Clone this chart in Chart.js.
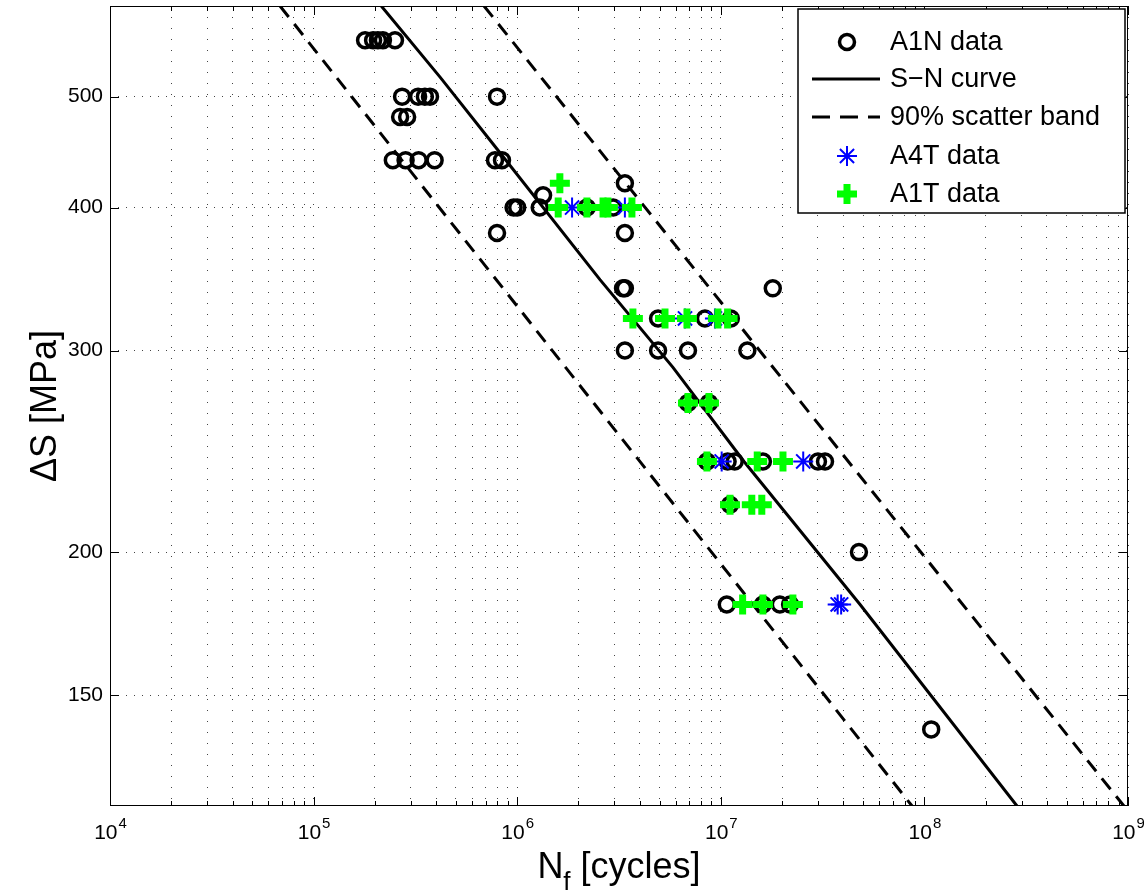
<!DOCTYPE html>
<html>
<head>
<meta charset="utf-8">
<script src="https://cdn.jsdelivr.net/npm/chart.js@4.4.0/dist/chart.umd.min.js"></script>
<style>
  html, body { margin: 0; padding: 0; background: #fff; }
  #wrap { width: 1144px; height: 890px; }
</style>
</head>
<body>
<div id="wrap"><canvas id="sn-chart" width="1144" height="890"></canvas></div>
<script>
/* S-N plot: A1N / A4T / A1T fatigue data with fitted curve and 90% band */

var FONT = '"Liberation Sans", Arial, Helvetica, sans-serif';

// axis ticks
var X_DECADES = [1e4, 1e5, 1e6, 1e7, 1e8, 1e9];
var X_EXPONENTS = ['4', '5', '6', '7', '8', '9'];
var Y_TICKS = [150, 200, 300, 400, 500];

// A1N data (black circles)
var a1nN = [1.79e5, 1.96e5, 2.07e5, 2.19e5, 2.51e5,
  2.72e5, 3.26e5, 3.52e5, 3.73e5, 7.96e5,
  2.66e5, 2.88e5,
  2.45e5, 2.83e5, 3.28e5, 3.93e5, 7.78e5, 8.42e5,
  3.38e6,
  1.34e6,
  9.6e5, 1.0e6, 1.29e6, 2.2e6, 2.96e6,
  7.96e5, 3.38e6,
  3.31e6, 3.38e6, 1.8e7,
  4.92e6, 8.36e6, 1.12e7,
  3.38e6, 4.92e6, 6.9e6, 1.35e7,
  6.9e6, 8.75e6,
  8.55e6, 1.08e7, 1.17e7, 1.61e7, 3.0e7, 3.25e7,
  1.11e7,
  4.77e7,
  1.07e7, 1.61e7, 1.95e7, 2.19e7,
  1.08e8];
var a1nS = [560, 560, 560, 560, 560,
  500, 500, 500, 500, 500,
  480, 480,
  440, 440, 440, 440, 440, 440,
  420,
  410,
  400, 400, 400, 400, 400,
  380, 380,
  340, 340, 340,
  320, 320, 320,
  300, 300, 300, 300,
  270, 270,
  240, 240, 240, 240, 240, 240,
  220,
  200,
  180, 180, 180, 180,
  140];

// A4T data (blue asterisks)
var a4tN = [1.86e6, 3.38e6, 6.67e6, 9.36e6, 1.01e7, 2.54e7, 3.75e7, 3.9e7];
var a4tS = [400, 400, 320, 320, 240, 240, 180, 180];

// A1T data (green plus)
var a1tN = [1.62e6,
  1.59e6, 2.2e6, 2.64e6, 2.79e6, 3.66e6,
  3.70e6, 5.32e6, 6.82e6, 9.68e6, 1.08e7,
  6.9e6, 8.75e6,
  8.55e6, 1.51e7, 2.02e7,
  1.11e7, 1.42e7, 1.59e7,
  1.28e7, 1.61e7, 2.26e7];
var a1tS = [420,
  400, 400, 400, 400, 400,
  320, 320, 320, 320, 320,
  270, 270,
  240, 240, 240,
  220, 220, 220,
  180, 180, 180];

// S-N curve and scatter band
var snN = [2.15e5, 4.18e5, 7.96e5, 2.55e6, 5.82e6, 1.3e7, 4.83e7, 2.85e8];
var snS = [600, 520, 450, 346, 290, 240, 180, 120];
var bandLoN = [6.84e4, 8.7e7];
var bandLoS = [600, 120];
var bandHiN = [6.87e5, 9.55e8];
var bandHiS = [600, 120];

function pairs(xs, ys) {
  return xs.map(function(x, i) { return { x: x, y: ys[i] }; });
}

function allXTicks() {
  var out = [];
  for (var d = 0; d < X_DECADES.length; d++) {
    var base = X_DECADES[d];
    var top = d === X_DECADES.length - 1 ? 1 : 9;
    for (var m = 1; m <= top; m++) out.push(base * m);
  }
  return out;
}
var X_TICKS = allXTicks();

var LEGEND_ITEMS = [
  { label: 'A1N data', kind: 'point', style: 'circle', color: '#000', radius: 7.5, width: 3.5 },
  { label: 'S\u2212N curve', kind: 'line', color: '#000', dash: [] },
  { label: '90% scatter band', kind: 'line', color: '#000', dash: [18, 10] },
  { label: 'A4T data', kind: 'point', style: 'star', color: '#0000ff', radius: 10, width: 2 },
  { label: 'A1T data', kind: 'point', style: 'cross', color: '#00ff00', radius: 10, width: 7 }
];

var framePlugin = {
  id: 'frame',
  afterDraw: function(chart) {
    var ctx = chart.ctx;
    var a = chart.chartArea;
    var xs = chart.scales.x;
    var ys = chart.scales.y;
    ctx.save();

    // inner tick marks on all four sides
    ctx.strokeStyle = '#000';
    ctx.lineWidth = 1;
    ctx.beginPath();
    X_TICKS.forEach(function(v) {
      var px = Math.round(xs.getPixelForValue(v)) + 0.5;
      var len = X_DECADES.indexOf(v) >= 0 ? 9 : 5;
      ctx.moveTo(px, a.bottom); ctx.lineTo(px, a.bottom - len);
      ctx.moveTo(px, a.top); ctx.lineTo(px, a.top + len);
    });
    Y_TICKS.forEach(function(v) {
      var py = Math.round(ys.getPixelForValue(v)) + 0.5;
      ctx.moveTo(a.left, py); ctx.lineTo(a.left + 9, py);
      ctx.moveTo(a.right, py); ctx.lineTo(a.right - 9, py);
    });
    ctx.stroke();
    ctx.strokeRect(a.left + 0.5, a.top + 0.5, a.right - a.left - 1, a.bottom - a.top - 1);

    // x tick labels: 10 with superscript exponent
    ctx.fillStyle = '#000';
    X_DECADES.forEach(function(v, i) {
      var px = xs.getPixelForValue(v);
      ctx.font = '21px ' + FONT;
      var w1 = ctx.measureText('10').width;
      ctx.font = '15px ' + FONT;
      var w2 = ctx.measureText(X_EXPONENTS[i]).width;
      var x0 = px - (w1 + w2) / 2;
      ctx.textAlign = 'left';
      ctx.textBaseline = 'alphabetic';
      ctx.font = '21px ' + FONT;
      ctx.fillText('10', x0, a.bottom + 33);
      ctx.font = '15px ' + FONT;
      ctx.fillText(X_EXPONENTS[i], x0 + w1 + 1, a.bottom + 22);
    });

    // x axis title with subscript
    ctx.font = '36px ' + FONT;
    var tN = 'N', tRest = ' [cycles]';
    var wN = ctx.measureText(tN).width;
    var wR = ctx.measureText(tRest).width;
    ctx.font = '26px ' + FONT;
    var wf = ctx.measureText('f').width;
    var cx = (a.left + a.right) / 2;
    var start = cx - (wN + wf + wR) / 2;
    ctx.font = '36px ' + FONT;
    ctx.fillText(tN, start, 878);
    ctx.font = '26px ' + FONT;
    ctx.fillText('f', start + wN, 890);
    ctx.font = '36px ' + FONT;
    ctx.fillText(tRest, start + wN + wf, 878);

    // legend box
    var lx = 798, ly = 9, lw = 327, lh = 204;
    ctx.fillStyle = '#fff';
    ctx.fillRect(lx, ly, lw, lh);
    ctx.lineWidth = 1.5;
    ctx.strokeStyle = '#000';
    ctx.strokeRect(lx, ly, lw, lh);
    var rows = [42, 79, 117, 156, 194];
    LEGEND_ITEMS.forEach(function(item, i) {
      var y = rows[i];
      if (item.kind === 'line') {
        ctx.save();
        ctx.strokeStyle = item.color;
        ctx.lineWidth = 3;
        ctx.setLineDash(item.dash);
        ctx.beginPath();
        ctx.moveTo(812, y); ctx.lineTo(880, y);
        ctx.stroke();
        ctx.restore();
      } else {
        ctx.save();
        ctx.strokeStyle = item.color;
        ctx.fillStyle = 'rgba(0,0,0,0)';
        ctx.lineWidth = item.width;
        Chart.helpers.drawPoint(ctx, { pointStyle: item.style, radius: item.radius, borderWidth: item.width, rotation: 0 }, 847, y);
        ctx.restore();
      }
      ctx.fillStyle = '#000';
      ctx.font = '27px ' + FONT;
      ctx.textAlign = 'left';
      ctx.textBaseline = 'middle';
      ctx.fillText(item.label, 890, y + 1);
    });
    ctx.restore();
  }
};

new Chart(document.getElementById('sn-chart').getContext('2d'), {
  type: 'scatter',
  data: {
    datasets: [
      {
        label: 'A1T data',
        data: pairs(a1tN, a1tS),
        pointStyle: 'cross',
        pointRadius: 10,
        borderWidth: 7,
        borderColor: '#00ff00',
        backgroundColor: '#00ff00',
        order: 1
      },
      {
        label: 'A4T data',
        data: pairs(a4tN, a4tS),
        pointStyle: 'star',
        pointRadius: 10,
        borderWidth: 2,
        borderColor: '#0000ff',
        backgroundColor: '#0000ff',
        order: 2
      },
      {
        label: 'S-N curve',
        type: 'line',
        data: pairs(snN, snS),
        showLine: true,
        pointRadius: 0,
        borderWidth: 3,
        borderColor: '#000',
        fill: false,
        tension: 0,
        order: 3
      },
      {
        label: '90% scatter band (lower)',
        type: 'line',
        data: pairs(bandLoN, bandLoS),
        showLine: true,
        pointRadius: 0,
        borderWidth: 3,
        borderDash: [14, 9],
        borderColor: '#000',
        fill: false,
        order: 4
      },
      {
        label: '90% scatter band (upper)',
        type: 'line',
        data: pairs(bandHiN, bandHiS),
        showLine: true,
        pointRadius: 0,
        borderWidth: 3,
        borderDash: [14, 9],
        borderColor: '#000',
        fill: false,
        order: 5
      },
      {
        label: 'A1N data',
        data: pairs(a1nN, a1nS),
        pointStyle: 'circle',
        pointRadius: 7.5,
        borderWidth: 3.5,
        borderColor: '#000',
        backgroundColor: 'rgba(0,0,0,0)',
        order: 6
      }
    ]
  },
  options: {
    responsive: false,
    animation: false,
    devicePixelRatio: 1,
    layout: { autoPadding: false, padding: { top: 6, right: 16, left: 0, bottom: 0 } },
    plugins: {
      legend: { display: false },
      tooltip: { enabled: false }
    },
    scales: {
      x: {
        type: 'logarithmic',
        position: 'bottom',
        min: 1e4,
        max: 1e9,
        afterBuildTicks: function(scale) {
          scale.ticks = X_TICKS.map(function(v) { return { value: v }; });
        },
        afterFit: function(scale) {
          scale.height = 84;
          scale.paddingLeft = 0;
          scale.paddingRight = 0;
        },
        ticks: { display: false },
        grid: { color: '#444', lineWidth: 1, drawTicks: false },
        border: { display: false, dash: [1, 10] }
      },
      y: {
        type: 'logarithmic',
        position: 'left',
        min: 120,
        max: 600,
        afterBuildTicks: function(scale) {
          scale.ticks = Y_TICKS.map(function(v) { return { value: v }; });
        },
        afterFit: function(scale) {
          scale.width = 110;
          scale.paddingTop = 0;
          scale.paddingBottom = 0;
        },
        ticks: {
          color: '#000',
          padding: 7,
          autoSkip: false,
          font: { family: FONT, size: 21 },
          callback: function(v) { return String(v); }
        },
        grid: { color: '#444', lineWidth: 1, drawTicks: false },
        border: { display: false, dash: [1, 7] },
        title: {
          display: true,
          text: '\u0394S [MPa]',
          color: '#000',
          font: { family: FONT, size: 36 },
          padding: { top: 24, bottom: 0 }
        }
      }
    }
  },
  plugins: [framePlugin]
});
</script>
</body>
</html>
